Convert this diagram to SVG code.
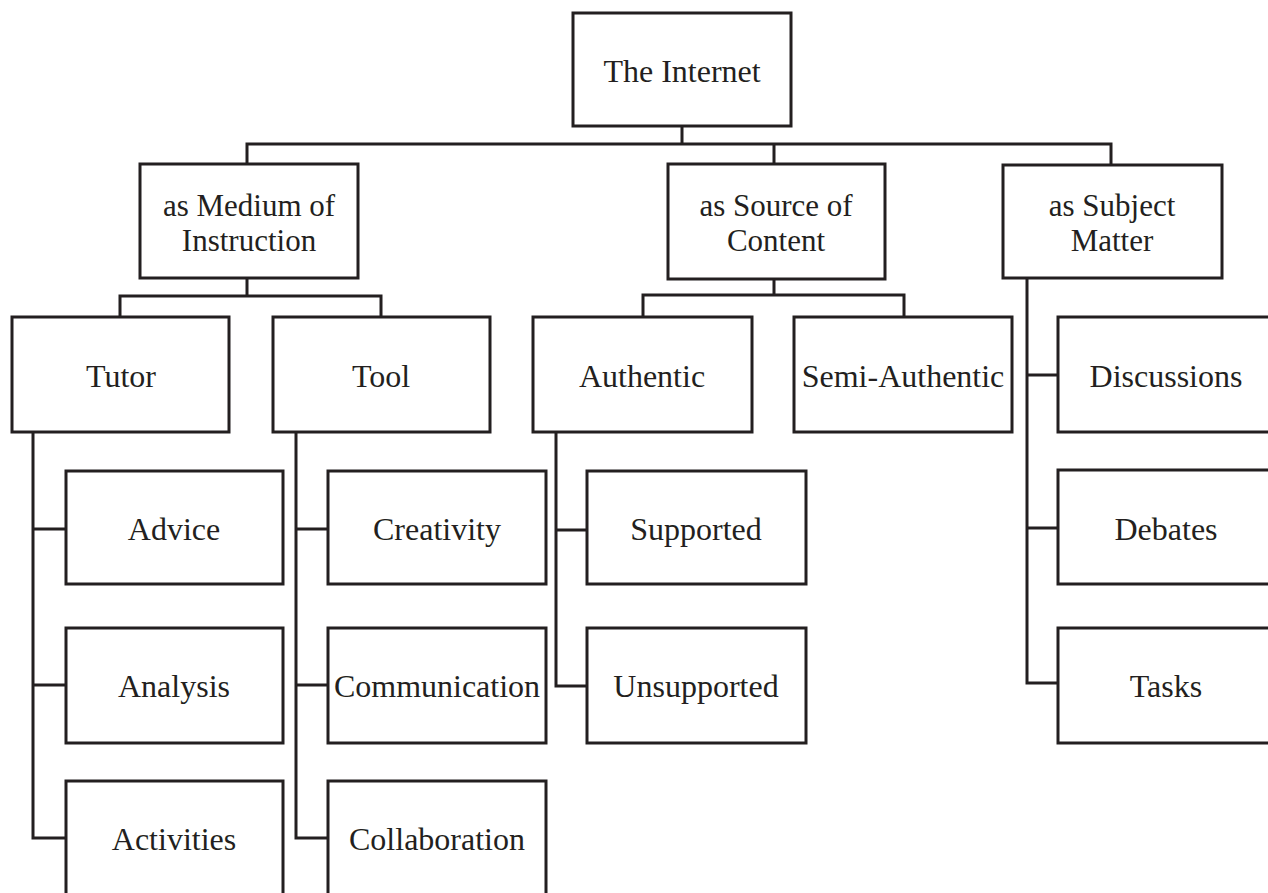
<svg xmlns="http://www.w3.org/2000/svg" width="1268" height="893" viewBox="0 0 1268 893">
<style>
.box{fill:#fff;stroke:#231f20;stroke-width:3}
.lbl{font-family:"Liberation Serif","Times New Roman",serif;font-size:32px;fill:#231f20;text-anchor:middle}
.two{font-size:31px}
.conn{fill:none;stroke:#231f20;stroke-width:3;stroke-linejoin:miter;stroke-linecap:square}
</style>
<rect width="1268" height="893" fill="#fff"/>
<g id="connectors" class="conn">
<path d="M682,126V144M247,144H1111M247,144V164M774,144V164M1111,144V165"/>
<path d="M247,278V296M120,296H381M120,296V317M381,296V317"/>
<path d="M774,279V295M643,295H904M643,295V317M904,295V317"/>
<path d="M33,432V838H66M33,529H66M33,685H66"/>
<path d="M296,432V838H328M296,529H328M296,685H328"/>
<path d="M556,432V686H587M556,530H587"/>
<path d="M1027,278V683H1058M1027,375H1058M1027,528H1058"/>
</g>
<g id="internet"><rect class="box" x="573" y="13" width="218" height="113"/><text class="lbl" x="682" y="82">The Internet</text></g>
<g id="medium"><rect class="box" x="140" y="164" width="218" height="114"/><text class="lbl two" x="249" y="216">as Medium of</text><text class="lbl two" x="249" y="251">Instruction</text></g>
<g id="source"><rect class="box" x="668" y="164" width="217" height="115"/><text class="lbl two" x="776" y="216">as Source of</text><text class="lbl two" x="776" y="251">Content</text></g>
<g id="subject"><rect class="box" x="1003" y="165" width="219" height="113"/><text class="lbl two" x="1112" y="216">as Subject</text><text class="lbl two" x="1112" y="251">Matter</text></g>
<g id="tutor"><rect class="box" x="12" y="317" width="217" height="115"/><text class="lbl" x="121" y="387">Tutor</text></g>
<g id="tool"><rect class="box" x="273" y="317" width="217" height="115"/><text class="lbl" x="381" y="387">Tool</text></g>
<g id="authentic"><rect class="box" x="533" y="317" width="219" height="115"/><text class="lbl" x="642" y="387">Authentic</text></g>
<g id="semi-authentic"><rect class="box" x="794" y="317" width="218" height="115"/><text class="lbl" x="903" y="387">Semi-Authentic</text></g>
<g id="discussions"><rect class="box" x="1058" y="317" width="217" height="115"/><text class="lbl" x="1166" y="387">Discussions</text></g>
<g id="advice"><rect class="box" x="66" y="471" width="217" height="113"/><text class="lbl" x="174" y="540">Advice</text></g>
<g id="creativity"><rect class="box" x="328" y="471" width="218" height="113"/><text class="lbl" x="437" y="540">Creativity</text></g>
<g id="supported"><rect class="box" x="587" y="471" width="219" height="113"/><text class="lbl" x="696" y="540">Supported</text></g>
<g id="debates"><rect class="box" x="1058" y="470" width="217" height="114"/><text class="lbl" x="1166" y="540">Debates</text></g>
<g id="analysis"><rect class="box" x="66" y="628" width="217" height="115"/><text class="lbl" x="174" y="697">Analysis</text></g>
<g id="communication"><rect class="box" x="328" y="628" width="218" height="115"/><text class="lbl" x="437" y="697">Communication</text></g>
<g id="unsupported"><rect class="box" x="587" y="628" width="219" height="115"/><text class="lbl" x="696" y="697">Unsupported</text></g>
<g id="tasks"><rect class="box" x="1058" y="628" width="217" height="115"/><text class="lbl" x="1166" y="697">Tasks</text></g>
<g id="activities"><rect class="box" x="66" y="781" width="217" height="115"/><text class="lbl" x="174" y="850">Activities</text></g>
<g id="collaboration"><rect class="box" x="328" y="781" width="218" height="115"/><text class="lbl" x="437" y="850">Collaboration</text></g>
</svg>
